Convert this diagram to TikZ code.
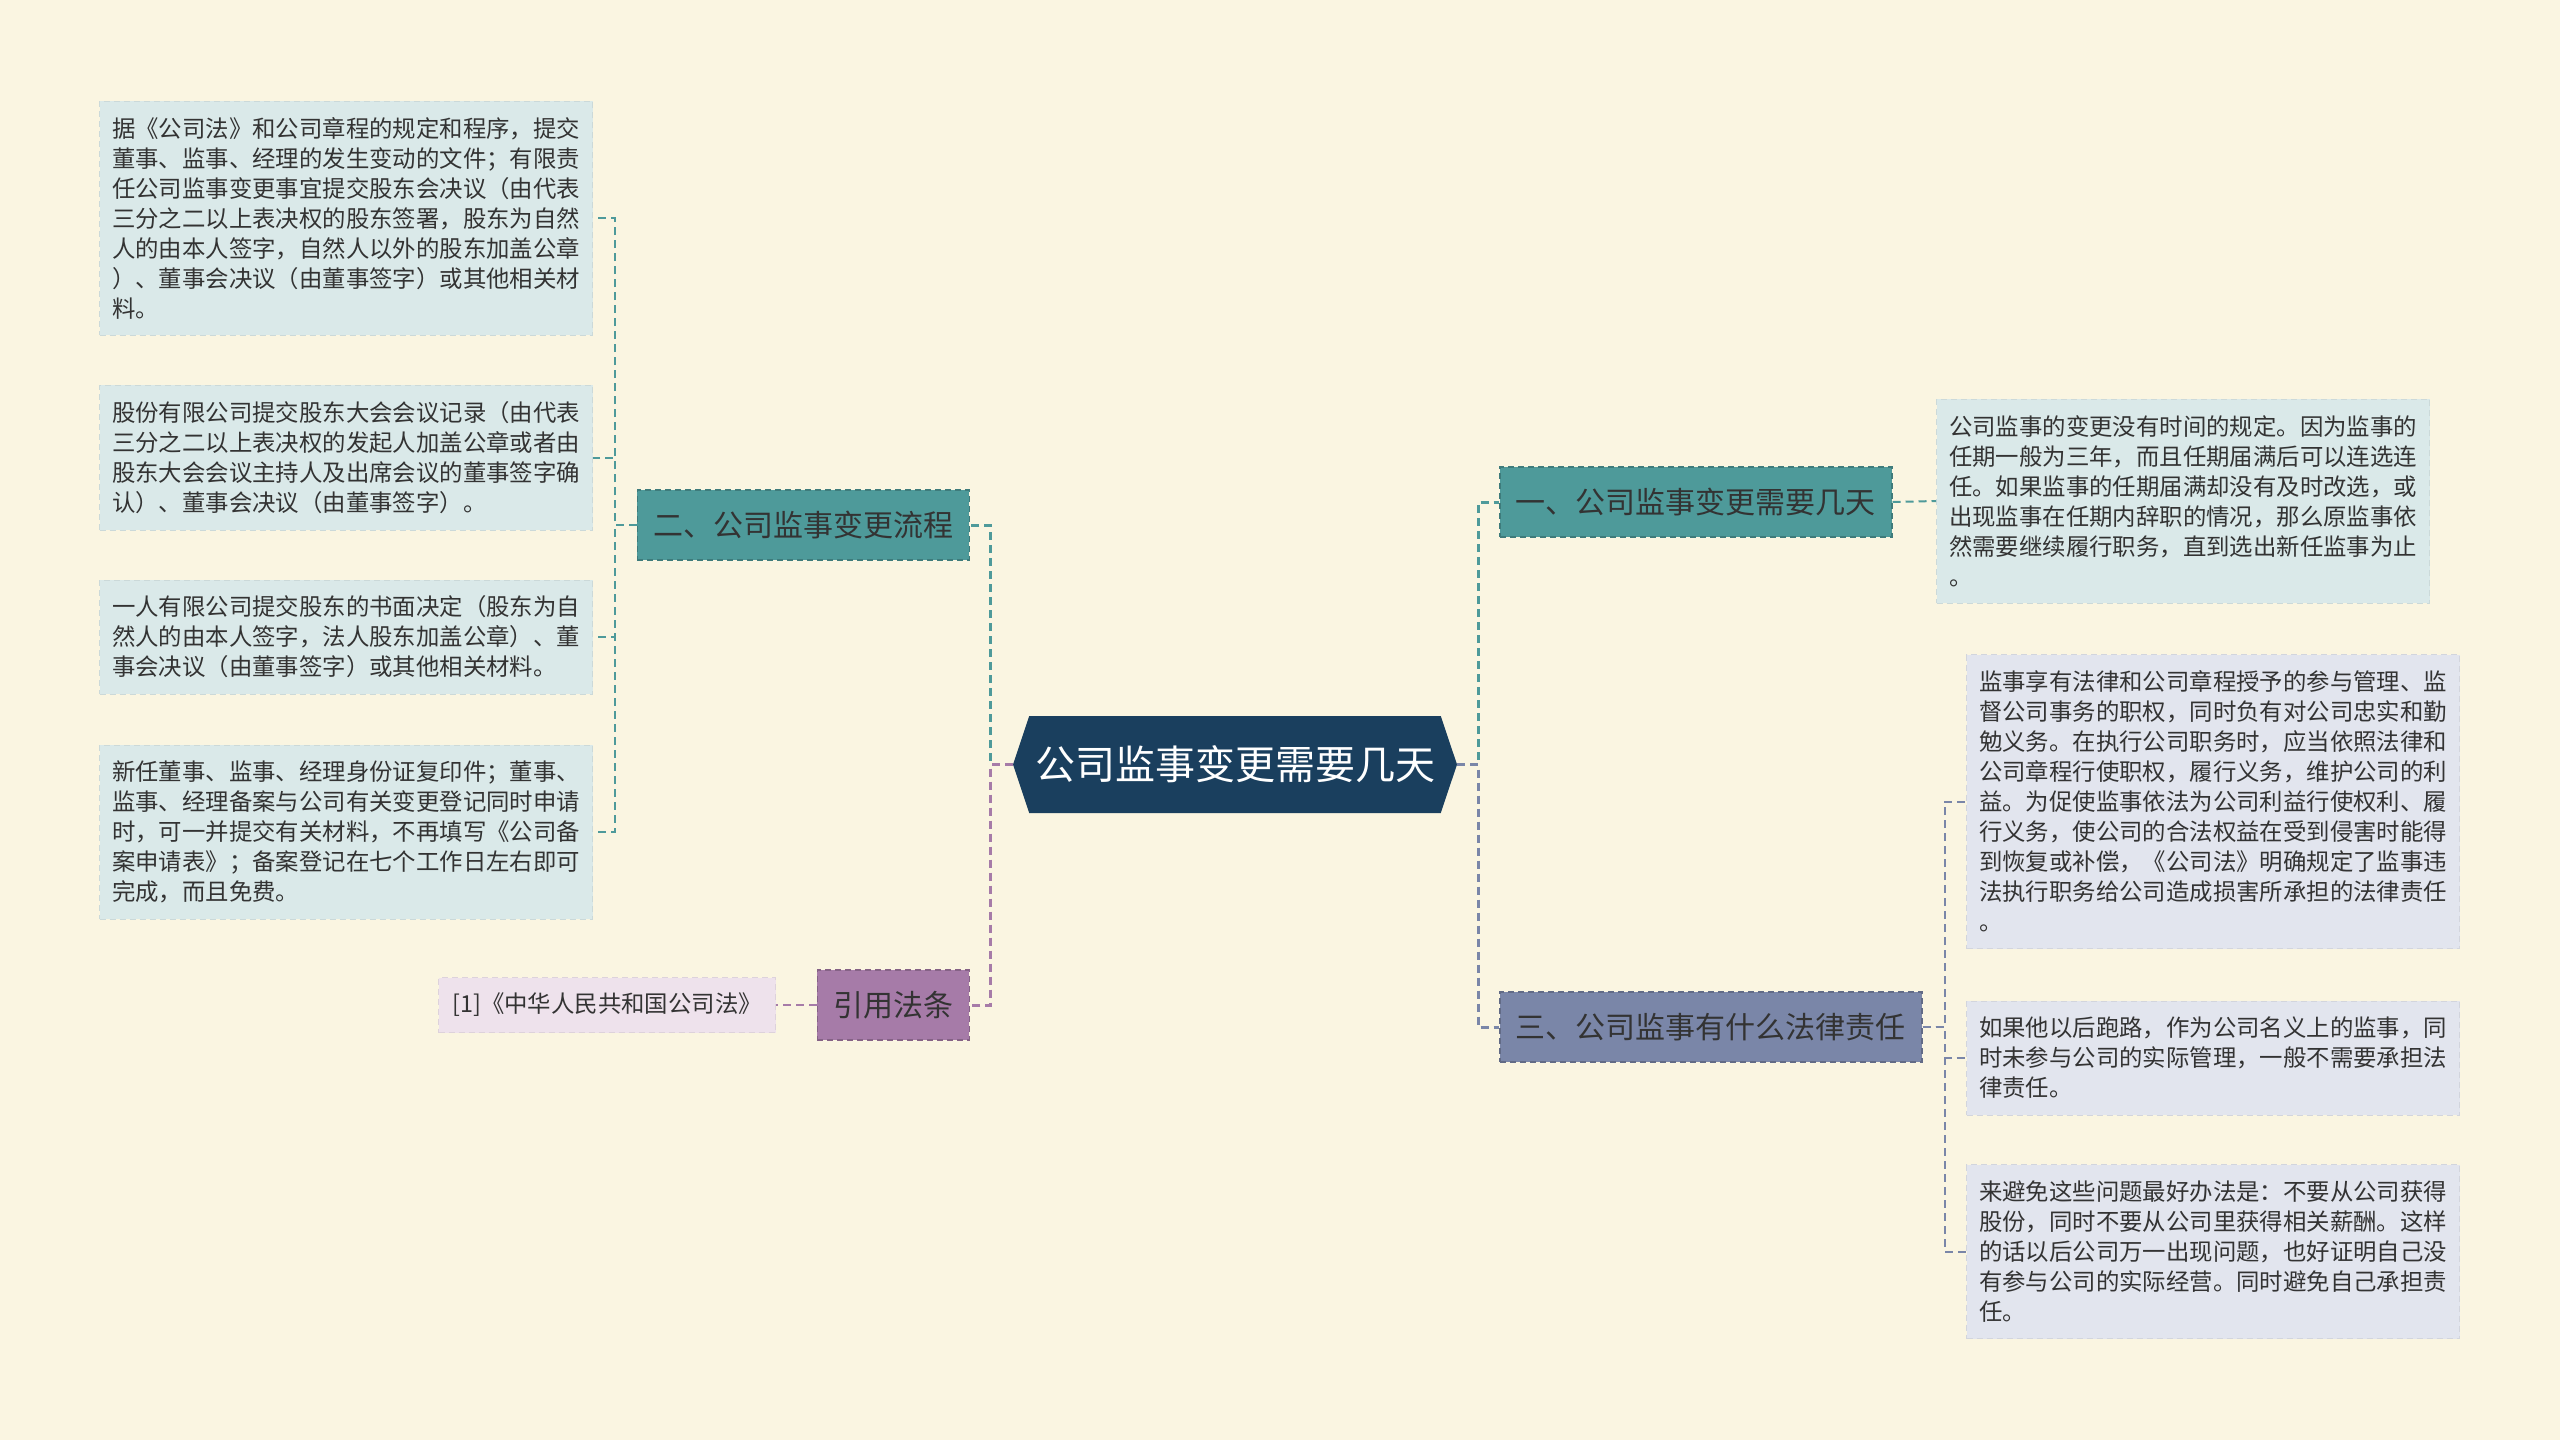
\documentclass[tikz,border=0pt]{standalone}
\usepackage{fontspec}
\setmainfont{Noto Sans CJK SC}
\usepackage{xcolor}
\usepackage{tikz}
\usetikzlibrary{shapes.symbols}

\definecolor{bgcream}{HTML}{FAF5E1}
\definecolor{rootblue}{HTML}{1A3F5E}
\definecolor{tealtopic}{HTML}{4E9A9A}
\definecolor{tealleaf}{HTML}{DAE9E9}
\definecolor{plumtopic}{HTML}{A67BA8}
\definecolor{plumleaf}{HTML}{EEE2EC}
\definecolor{slatetopic}{HTML}{7A86A8}
\definecolor{slateleaf}{HTML}{E2E5EE}
\definecolor{inkgray}{HTML}{333333}

\begin{document}
\begin{tikzpicture}[
    x=1pt, y=-1pt,
    root/.style={shape=signal, signal to=west and east, signal pointer angle=143,
                 fill=rootblue, text=white, font=\fontsize{40}{48}\selectfont,
                 minimum width=444pt, minimum height=97pt, inner sep=0pt},
    topic/.style={draw=#1!80!black, fill=#1, dash pattern=on 6pt off 4pt,
                  line width=1.5pt, text=inkgray, font=\fontsize{30}{36}\selectfont,
                  minimum height=70pt, inner xsep=16pt},
    leaf/.style={draw=#1!93!black, fill=#1, dash pattern=on 6pt off 4pt,
                 line width=1pt, text=inkgray, font=\fontsize{23.4}{30}\selectfont,
                 align=left, minimum width=493pt, inner xsep=12pt, inner ysep=0pt},
    link/.style={draw=#1, line width=3pt, dash pattern=on 8pt off 5pt},
    leaflink/.style={draw=#1, line width=2pt, dash pattern=on 8pt off 5pt},
  ]
  \useasboundingbox (0,0) rectangle (2560,1440);
  \fill[bgcream] (0,0) rectangle (2560,1440);

  % centre
  \node[root] (root) at (1235, 764.5) {公司监事变更需要几天};

  % branch 二
  \node[topic=tealtopic, anchor=east] (flow) at (970, 525) {二、公司监事变更流程};
  \node[leaf=tealleaf, minimum height=234pt, anchor=east] (flow1) at (593, 218)
    {据《公司法》和公司章程的规定和程序，提交\\董事、监事、经理的发生变动的文件；有限责\\任公司监事变更事宜提交股东会决议（由代表\\三分之二以上表决权的股东签署，股东为自然\\人的由本人签字，自然人以外的股东加盖公章\\）、董事会决议（由董事签字）或其他相关材\\料。};
  \node[leaf=tealleaf, minimum height=145pt, anchor=east] (flow2) at (593, 457.5)
    {股份有限公司提交股东大会会议记录（由代表\\三分之二以上表决权的发起人加盖公章或者由\\股东大会会议主持人及出席会议的董事签字确\\认）、董事会决议（由董事签字）。};
  \node[leaf=tealleaf, minimum height=114pt, anchor=east] (flow3) at (593, 637)
    {一人有限公司提交股东的书面决定（股东为自\\然人的由本人签字，法人股东加盖公章）、董\\事会决议（由董事签字）或其他相关材料。};
  \node[leaf=tealleaf, minimum height=174pt, anchor=east] (flow4) at (593, 832)
    {新任董事、监事、经理身份证复印件；董事、\\监事、经理备案与公司有关变更登记同时申请\\时，可一并提交有关材料，不再填写《公司备\\案申请表》；备案登记在七个工作日左右即可\\完成，而且免费。};

  % 引用法条
  \node[topic=plumtopic, anchor=east] (cite) at (970, 1005) {引用法条};
  \node[leaf=plumleaf, minimum width=337pt, minimum height=55pt, inner xsep=12pt,
        anchor=east] (cite1) at (776, 1005) {[1]《中华人民共和国公司法》};

  % branch 一
  \node[topic=tealtopic, anchor=west] (days) at (1499, 502) {一、公司监事变更需要几天};
  \node[leaf=tealleaf, minimum height=204pt, anchor=west] (days1) at (1936, 501)
    {公司监事的变更没有时间的规定。因为监事的\\任期一般为三年，而且任期届满后可以连选连\\任。如果监事的任期届满却没有及时改选，或\\出现监事在任期内辞职的情况，那么原监事依\\然需要继续履行职务，直到选出新任监事为止\\。};

  % branch 三
  \node[topic=slatetopic, anchor=west] (duty) at (1499, 1027) {三、公司监事有什么法律责任};
  \node[leaf=slateleaf, minimum height=294pt, anchor=west] (duty1) at (1966, 801.5)
    {监事享有法律和公司章程授予的参与管理、监\\督公司事务的职权，同时负有对公司忠实和勤\\勉义务。在执行公司职务时，应当依照法律和\\公司章程行使职权，履行义务，维护公司的利\\益。为促使监事依法为公司利益行使权利、履\\行义务，使公司的合法权益在受到侵害时能得\\到恢复或补偿，《公司法》明确规定了监事违\\法执行职务给公司造成损害所承担的法律责任\\。};
  \node[leaf=slateleaf, minimum height=114pt, anchor=west] (duty2) at (1966, 1058)
    {如果他以后跑路，作为公司名义上的监事，同\\时未参与公司的实际管理，一般不需要承担法\\律责任。};
  \node[leaf=slateleaf, minimum height=174pt, anchor=west] (duty3) at (1966, 1251.5)
    {来避免这些问题最好办法是：不要从公司获得\\股份，同时不要从公司里获得相关薪酬。这样\\的话以后公司万一出现问题，也好证明自己没\\有参与公司的实际经营。同时避免自己承担责\\任。};

  % connectors
  \draw[link=tealtopic]  (root.west) -- ++(-22,0) |- (flow.east);
  \draw[link=plumtopic]  (root.west) -- ++(-22,0) |- (cite.east);
  \draw[link=tealtopic]  (root.east) -- ++(21,0) |- (days.west);
  \draw[link=slatetopic] (root.east) -- ++(21,0) |- (duty.west);
  \foreach \k in {flow1, flow2, flow3, flow4}
    \draw[leaflink=tealtopic] (flow.west) -- ++(-22,0) |- (\k.east);
  \draw[leaflink=plumtopic] (cite.west) -- (cite1.east);
  \draw[leaflink=tealtopic] (days.east) -- (days1.west);
  \foreach \k in {duty1, duty2, duty3}
    \draw[leaflink=slatetopic] (duty.east) -- ++(22,0) |- (\k.west);
\end{tikzpicture}
\end{document}
